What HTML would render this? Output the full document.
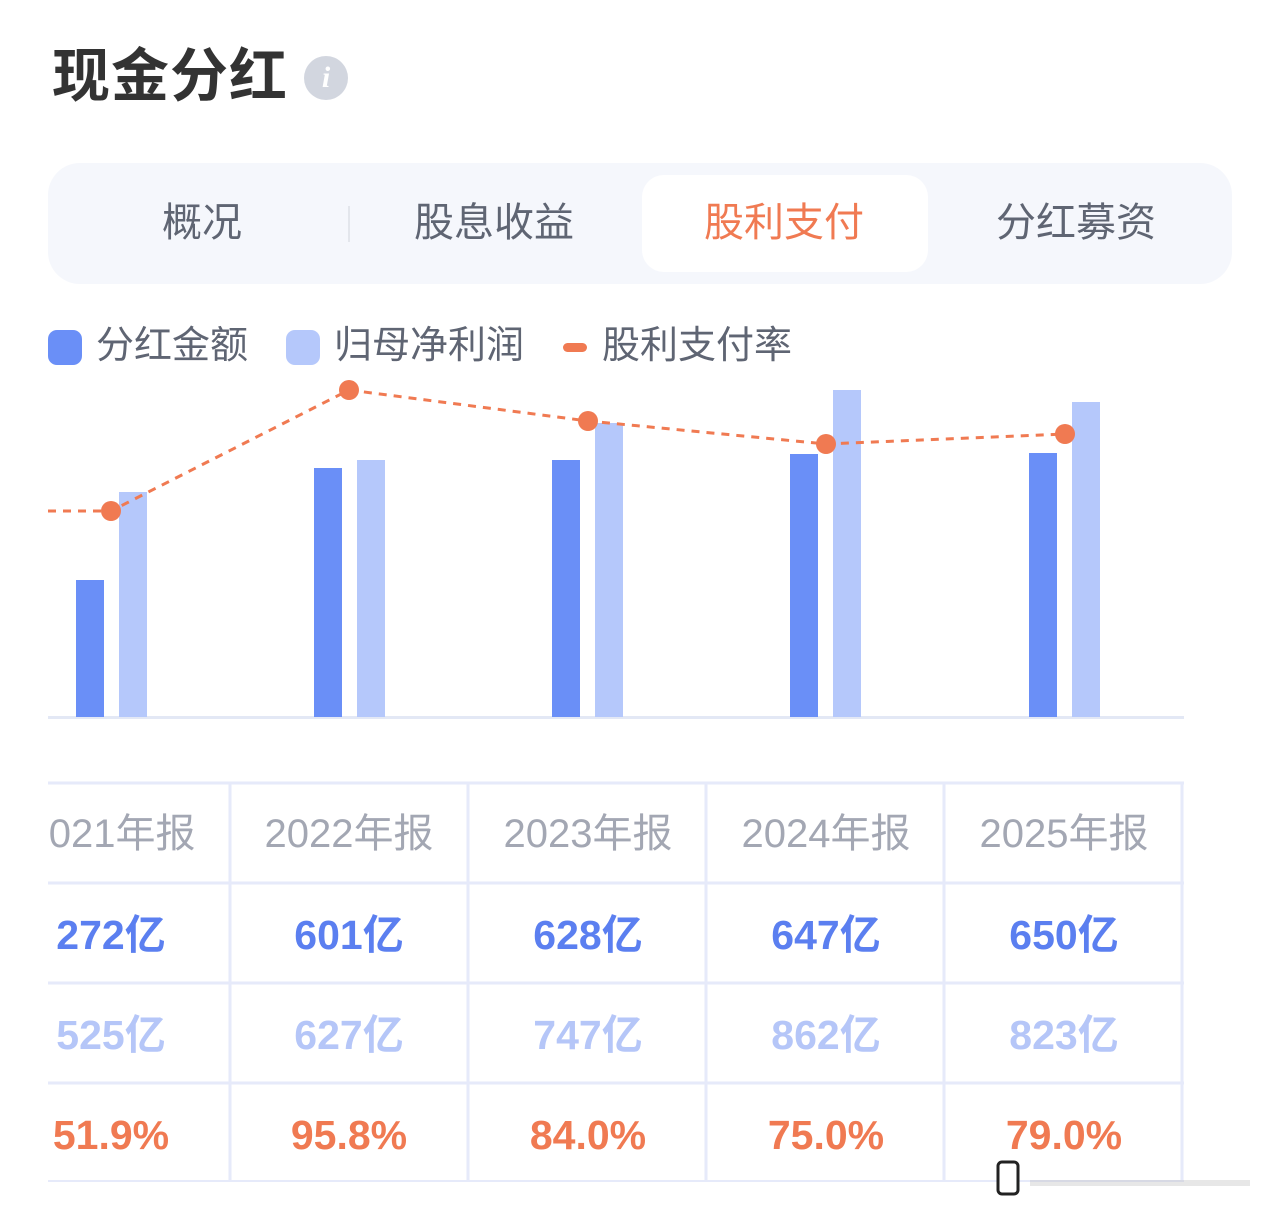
<!DOCTYPE html>
<html><head><meta charset="utf-8"><style>
body{margin:0;width:1280px;height:1220px;background:#fff;position:relative;overflow:hidden;font-family:"Liberation Sans","Noto Sans CJK SC",sans-serif}
.a{position:absolute;white-space:nowrap}
.c{position:absolute;transform:translateX(-50%);white-space:nowrap;line-height:1}
.tab{position:absolute;top:199px;font-size:40px;color:#5f6573;line-height:48px;transform:translateX(-50%)}
.h{font-size:40px;color:#a3a7b3;top:814px}
.r1{font-size:41px;color:#5b7ff0;font-weight:bold;top:915px}
.r2{font-size:41px;color:#b5c6f8;font-weight:bold;top:1015px}
.r3{font-size:41px;color:#f07a52;font-weight:bold;top:1115px}
</style></head><body>
<div class="a" style="left:52px;top:43px;font-size:58px;font-weight:bold;color:#333;line-height:68px;letter-spacing:1px">现金分红</div>
<div class="a" style="left:304px;top:56px;width:44px;height:44px;border-radius:50%;background:#d2d6df;color:#fff;font:italic bold 30px 'Liberation Serif',serif;text-align:center;line-height:44px">i</div>
<div class="a" style="left:48px;top:163px;width:1184px;height:121px;border-radius:32px;background:#f5f7fc"></div>
<div class="a" style="left:642px;top:175px;width:286px;height:97px;border-radius:22px;background:#fff"></div>
<div class="a" style="left:348px;top:206px;width:2px;height:36px;background:#e3e6ec"></div>
<div class="tab" style="left:202px">概况</div>
<div class="tab" style="left:494px">股息收益</div>
<div class="tab" style="left:784px;color:#f07a52">股利支付</div>
<div class="tab" style="left:1076px">分红募资</div>
<div class="a" style="left:48px;top:330px;width:34px;height:35px;border-radius:9px;background:#6a8ff7"></div>
<div class="a" style="left:96px;top:323px;font-size:38px;color:#5f6573;line-height:46px">分红金额</div>
<div class="a" style="left:286px;top:330px;width:34px;height:35px;border-radius:9px;background:#b5c8fb"></div>
<div class="a" style="left:334px;top:323px;font-size:38px;color:#5f6573;line-height:46px">归母净利润</div>
<div class="a" style="left:563px;top:343px;width:24px;height:9px;border-radius:5px;background:#f07a52"></div>
<div class="a" style="left:602px;top:323px;font-size:38px;color:#5f6573;line-height:46px">股利支付率</div>
<svg class="a" style="left:0;top:0" width="1280" height="1220">
<line x1="48" y1="717.5" x2="1184" y2="717.5" stroke="#e3e8f5" stroke-width="3"/>
<g fill="#6a8ff7">
<rect x="76" y="580" width="28" height="137"/><rect x="314" y="468" width="28" height="249"/><rect x="552" y="460" width="28" height="257"/><rect x="790" y="454" width="28" height="263"/><rect x="1029" y="453" width="28" height="264"/></g>
<g fill="#b5c8fb">
<rect x="119" y="492" width="28" height="225"/><rect x="357" y="460" width="28" height="257"/><rect x="595" y="423" width="28" height="294"/><rect x="833" y="390" width="28" height="327"/><rect x="1072" y="402" width="28" height="315"/></g>
<polyline points="48,511 111,511 349,390 588,421 826,444 1065,434" fill="none" stroke="#f07a52" stroke-width="3" stroke-dasharray="8,7"/>
<g fill="#f07a52"><circle cx="111" cy="511" r="10"/><circle cx="349" cy="390" r="10"/><circle cx="588" cy="421" r="10"/><circle cx="826" cy="444" r="10"/><circle cx="1065" cy="434" r="10"/></g>
<g stroke="#e6eafa" stroke-width="3">
<line x1="48" y1="783" x2="1184" y2="783"/><line x1="48" y1="883" x2="1184" y2="883"/><line x1="48" y1="983" x2="1184" y2="983"/><line x1="48" y1="1083" x2="1184" y2="1083"/><line x1="48" y1="1181" x2="1184" y2="1181" stroke-width="2"/>
<line x1="230" y1="783" x2="230" y2="1181"/><line x1="468" y1="783" x2="468" y2="1181"/><line x1="706" y1="783" x2="706" y2="1181"/><line x1="944" y1="783" x2="944" y2="1181"/><line x1="1182" y1="783" x2="1182" y2="1181"/></g>
<rect x="998" y="1162" width="20" height="32" rx="4" fill="#fff" stroke="#222" stroke-width="3"/>
<rect x="1030" y="1180" width="220" height="6" fill="#bbb" opacity="0.35"/>
</svg>
<div class="a" style="left:48px;top:780px;width:1136px;height:420px;overflow:hidden">
<div style="position:absolute;left:-48px;top:-780px;width:1280px;height:1220px">
<div class="c h" style="left:111px">2021年报</div><div class="c h" style="left:349px">2022年报</div><div class="c h" style="left:588px">2023年报</div><div class="c h" style="left:826px">2024年报</div><div class="c h" style="left:1064px">2025年报</div>
<div class="c r1" style="left:111px">272亿</div><div class="c r1" style="left:349px">601亿</div><div class="c r1" style="left:588px">628亿</div><div class="c r1" style="left:826px">647亿</div><div class="c r1" style="left:1064px">650亿</div>
<div class="c r2" style="left:111px">525亿</div><div class="c r2" style="left:349px">627亿</div><div class="c r2" style="left:588px">747亿</div><div class="c r2" style="left:826px">862亿</div><div class="c r2" style="left:1064px">823亿</div>
<div class="c r3" style="left:111px">51.9%</div><div class="c r3" style="left:349px">95.8%</div><div class="c r3" style="left:588px">84.0%</div><div class="c r3" style="left:826px">75.0%</div><div class="c r3" style="left:1064px">79.0%</div>
</div></div>
</body></html>
